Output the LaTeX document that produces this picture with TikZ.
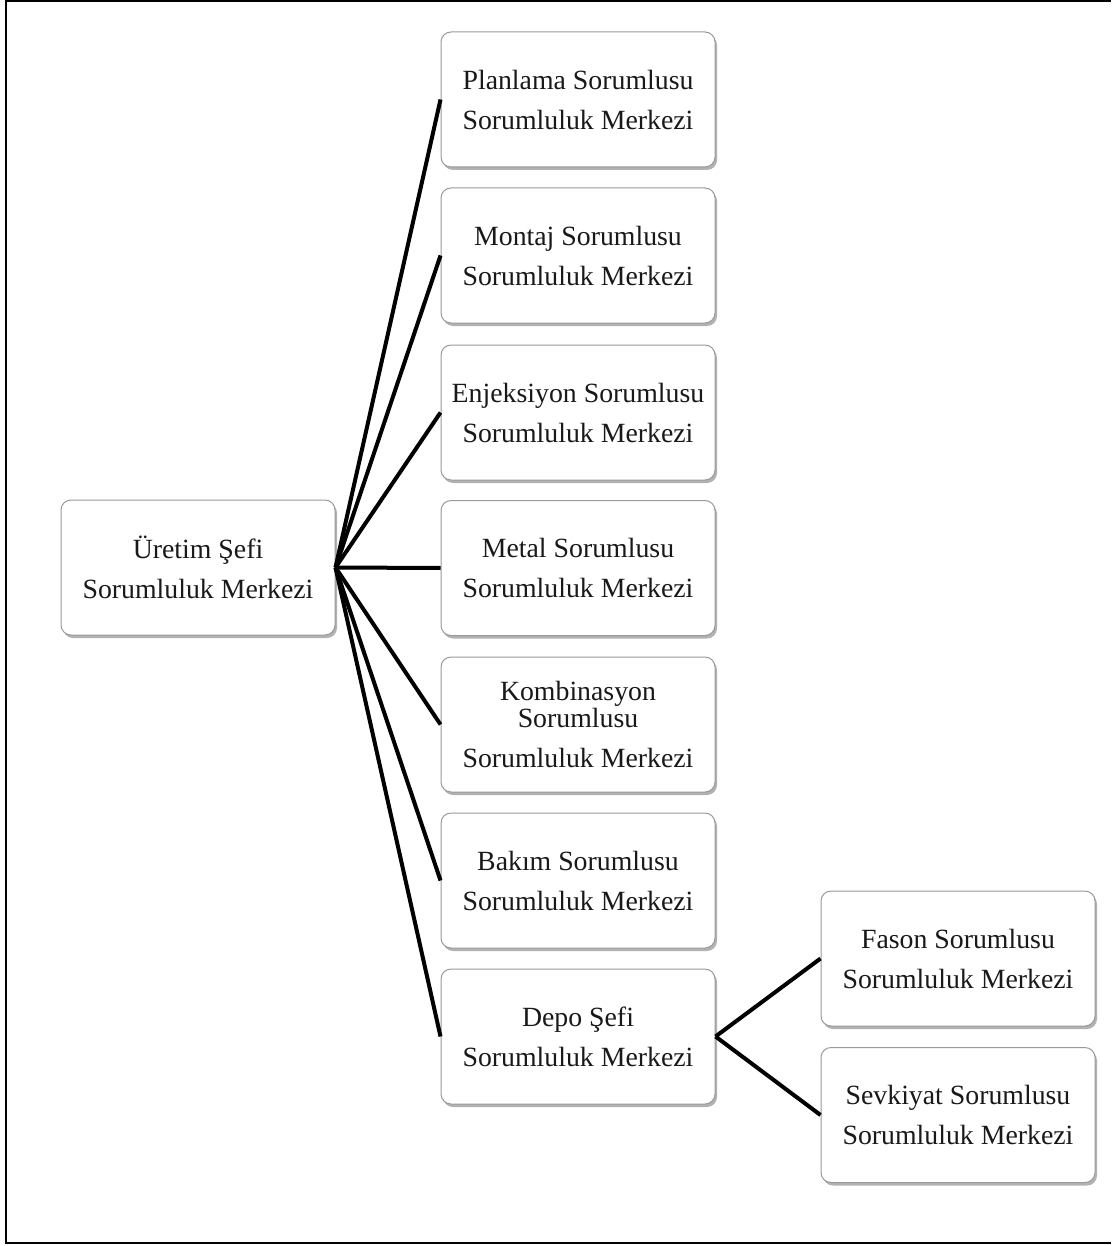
\documentclass[tikz,border=0pt]{standalone}
\usepackage{fontspec}
\setmainfont{Liberation Serif}
\usetikzlibrary{shadows}
\begin{document}
\begin{tikzpicture}[x=1pt,y=-1pt,
  box/.style={draw=black!40, line width=1pt, rounded corners=10pt, fill=white,
    minimum width=274pt, minimum height=135pt, inner sep=0pt, align=center,
    font=\fontsize{27.8}{40}\selectfont, text=black!90,
    drop shadow={shadow xshift=2pt, shadow yshift=-3pt, fill=black!55, opacity=0.55}},
  link/.style={line width=4pt, black}]
  % page extent and frame
  \useasboundingbox (0,0) rectangle (1111,1246);
  \draw[line width=2pt] (1111,1) -- (6,1) -- (6,1243) -- (1111,1243);

  % root
  \node[box] (uretim) at (198,567.5) {Üretim Şefi\\Sorumluluk Merkezi};

  % responsibility centres under the production chief
  \node[box] (planlama) at (578,99.5)  {Planlama Sorumlusu\\Sorumluluk Merkezi};
  \node[box] (montaj)   at (578,255.5) {Montaj Sorumlusu\\Sorumluluk Merkezi};
  \node[box] (enjeksiyon) at (578,412.5) {Enjeksiyon Sorumlusu\\Sorumluluk Merkezi};
  \node[box] (metal)    at (578,568)   {Metal Sorumlusu\\Sorumluluk Merkezi};
  \node[box] (kombinasyon) at (578,724.5) {Kombinasyon\\[-13pt]Sorumlusu\\Sorumluluk Merkezi};
  \node[box] (bakim)    at (578,880.5) {Bakım Sorumlusu\\Sorumluluk Merkezi};
  \node[box] (depo)     at (578,1036.5) {Depo Şefi\\Sorumluluk Merkezi};

  % under the warehouse chief
  \node[box] (fason)    at (958,958.5) {Fason Sorumlusu\\Sorumluluk Merkezi};
  \node[box] (sevkiyat) at (958,1115)  {Sevkiyat Sorumlusu\\Sorumluluk Merkezi};

  % connectors
  \foreach \n in {planlama,montaj,enjeksiyon,metal,kombinasyon,bakim,depo}
    \draw[link] (uretim.east) -- (\n.west);
  \draw[link] (depo.east) -- (fason.west);
  \draw[link] (depo.east) -- (sevkiyat.west);
\end{tikzpicture}
\end{document}
